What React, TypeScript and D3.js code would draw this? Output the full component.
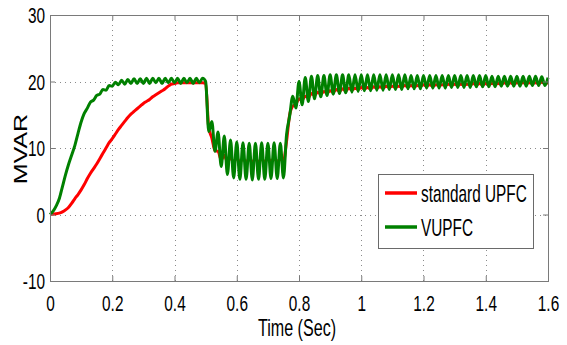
import React, { useEffect, useRef } from 'react'
import * as d3 from 'd3'

// axis ticks
const xTicks = [0, 0.2, 0.4, 0.6, 0.8, 1, 1.2, 1.4, 1.6]
const xTickLabels = ['0', '0.2', '0.4', '0.6', '0.8', '1', '1.2', '1.4', '1.6']
const yTicks = [-10, 0, 10, 20, 30]
const yTickLabels = ['-10', '0', '10', '20', '30']

const sampleStep = 0.01
const standardUpfc = [
  0, 0.05, 0.1, 0.2, 0.4, 0.7, 1.1, 1.7, 2.4, 3.0,
  3.7, 4.5, 5.4, 6.2, 6.9, 7.6, 8.4, 9.2, 10.0, 10.8,
  11.4, 12.1, 12.8, 13.4, 14.0, 14.6, 15.1, 15.5, 15.9, 16.3,
  16.7, 17.0, 17.3, 17.7, 18.0, 18.3, 18.6, 18.9, 19.3, 19.6,
  19.7, 19.8, 19.8, 19.8, 19.8, 19.8, 19.8, 19.8, 19.8, 19.8,
  19.7, 13.0, 11.5, 9.6, 9.5, 8.2, 8.9, 7.9, 8.6, 7.8,
  8.6, 7.8, 8.5, 7.8, 8.5, 7.8, 8.5, 7.8, 8.5, 7.8,
  8.5, 7.9, 8.5, 7.9, 8.4, 8.0, 11.0, 15.0, 16.3, 16.6,
  17.4, 17.2, 17.8, 17.6, 18.2, 17.9, 18.4, 18.1, 18.5, 18.3,
  18.6, 18.4, 18.8, 18.5, 18.9, 18.6, 19.0, 18.7, 19.0, 18.8,
  19.1, 18.9, 19.1, 18.9, 19.2, 19.0, 19.2, 19.0, 19.3, 19.1,
  19.3, 19.1, 19.3, 19.2, 19.4, 19.2, 19.4, 19.2, 19.4, 19.3,
  19.5, 19.3, 19.5, 19.3, 19.5, 19.4, 19.5, 19.4, 19.6, 19.4,
  19.6, 19.4, 19.6, 19.5, 19.6, 19.5, 19.7, 19.5, 19.7, 19.5,
  19.7, 19.6, 19.7, 19.6, 19.7, 19.6, 19.8, 19.6, 19.8, 19.6,
  19.8, 19.7, 19.8, 19.7, 19.8, 19.7, 19.8, 19.7, 19.9, 19.7,
  19.8,
]
const vupfc = [
  0, 0.5, 1.3, 2.4, 4.2, 6.0, 7.6, 9.0, 10.4, 12.2,
  13.9, 15.2, 16.0, 16.9, 17.2, 17.9, 18.1, 18.8, 18.7, 19.4,
  19.3, 19.9, 19.5, 20.2, 19.6, 20.3, 19.7, 20.4, 19.7, 20.4,
  19.7, 20.5, 19.7, 20.5, 19.8, 20.5, 19.7, 20.5, 19.8, 20.5,
  19.8, 20.5, 19.7, 20.5, 19.8, 20.5, 19.7, 20.5, 19.8, 20.5,
  20.0, 12.5, 14.0, 9.5, 12.4, 7.2, 11.8, 6.0, 11.2, 5.5,
  10.9, 5.3, 10.8, 5.3, 10.7, 5.2, 10.7, 5.3, 10.8, 5.3,
  10.7, 5.4, 10.8, 5.4, 10.7, 5.5, 12.0, 14.8, 17.8, 16.0,
  20.0, 16.5, 20.6, 17.0, 20.8, 17.4, 20.9, 17.7, 20.9, 17.9,
  21.0, 18.1, 21.0, 18.2, 21.0, 18.3, 21.0, 18.4, 21.0, 18.5,
  21.0, 18.6, 21.0, 18.6, 21.0, 18.7, 21.0, 18.7, 21.0, 18.8,
  21.0, 18.8, 21.0, 18.8, 21.0, 18.9, 20.9, 18.9, 20.9, 18.9,
  20.9, 19.0, 20.9, 19.0, 20.9, 19.0, 20.9, 19.0, 20.9, 19.1,
  20.9, 19.1, 20.9, 19.1, 20.9, 19.1, 20.9, 19.2, 20.9, 19.2,
  20.9, 19.2, 20.8, 19.2, 20.8, 19.3, 20.8, 19.3, 20.8, 19.3,
  20.8, 19.3, 20.8, 19.3, 20.8, 19.4, 20.8, 19.4, 20.7, 19.4,
  20.6,
]
const legendNames = ['standard UPFC', 'VUPFC']
const lineColors = ['#ff0000', '#008000']

const W = 567
const H = 345
const SX = 0.7 // the original text is squeezed sideways
const FONT = '"Liberation Sans", Arial, sans-serif'

export default function App() {
  const ref = useRef<SVGSVGElement>(null)

  useEffect(() => {
    const svg = d3.select(ref.current)
    svg.selectAll('*').remove()

    const left = 50, right = 548, top = 15, bottom = 281
    const x = d3.scaleLinear().domain([0, 1.6]).range([left, right])
    const y = d3.scaleLinear().domain([-10, 30]).range([bottom, top])

    svg.append('rect').attr('width', W).attr('height', H).attr('fill', '#fff')

    // dotted grid
    const grid = svg.append('g')
      .attr('stroke', '#8a8a8a')
      .attr('stroke-width', 1)
      .attr('stroke-dasharray', '1,4')
    grid.selectAll('line.gx')
      .data(xTicks.slice(1, -1))
      .join('line')
      .attr('class', 'gx')
      .attr('x1', d => Math.round(x(d)) + 0.5)
      .attr('x2', d => Math.round(x(d)) + 0.5)
      .attr('y1', top)
      .attr('y2', bottom)
    grid.selectAll('line.gy')
      .data(yTicks.slice(1, -1))
      .join('line')
      .attr('class', 'gy')
      .attr('x1', left)
      .attr('x2', right)
      .attr('y1', d => Math.round(y(d)) + 0.5)
      .attr('y2', d => Math.round(y(d)) + 0.5)

    // the two curves
    const line = d3.line<number>()
      .x((d, i) => x(i * sampleStep))
      .y(d => y(d))
      .curve(d3.curveMonotoneX)
    ;[standardUpfc, vupfc].forEach((series, k) => {
      svg.append('path')
        .datum(series)
        .attr('fill', 'none')
        .attr('stroke', lineColors[k])
        .attr('stroke-width', 3)
        .attr('stroke-linejoin', 'round')
        .attr('d', line)
    })

    // axes with inward ticks
    const styleAxis = (g: any) => {
      g.select('.domain').remove()
      g.selectAll('line').attr('stroke', '#7a7a7a')
      g.selectAll('text')
        .attr('fill', '#000')
        .attr('font-family', FONT)
        .attr('font-size', 22)
    }

    svg.append('g')
      .attr('transform', `translate(0,${bottom})`)
      .call(d3.axisBottom(x).tickValues(xTicks)
        .tickFormat((d, i) => xTickLabels[i])
        .tickSizeInner(-5).tickSizeOuter(0).tickPadding(14))
      .call(styleAxis)
      .selectAll('text')
      .attr('transform', `scale(${SX},1)`)

    svg.append('g')
      .attr('transform', `translate(0,${top})`)
      .call(d3.axisTop(x).tickValues(xTicks).tickFormat(() => '')
        .tickSizeInner(-5).tickSizeOuter(0))
      .call(styleAxis)

    svg.append('g')
      .attr('transform', `translate(${left},0)`)
      .call(d3.axisLeft(y).tickValues(yTicks)
        .tickFormat((d, i) => yTickLabels[i])
        .tickSizeInner(-5).tickSizeOuter(0))
      .call(styleAxis)
      .selectAll('text')
      .attr('x', -5 / SX)
      .attr('dy', '0.36em')
      .attr('transform', `scale(${SX},1)`)

    svg.append('g')
      .attr('transform', `translate(${right},0)`)
      .call(d3.axisRight(y).tickValues(yTicks).tickFormat(() => '')
        .tickSizeInner(-5).tickSizeOuter(0))
      .call(styleAxis)

    // box
    svg.append('rect')
      .attr('x', left + 0.5)
      .attr('y', top + 0.5)
      .attr('width', right - left)
      .attr('height', bottom - top)
      .attr('fill', 'none')
      .attr('stroke', '#7a7a7a')

    // axis titles
    svg.append('text')
      .attr('transform', `translate(297,336) scale(${SX},1)`)
      .attr('text-anchor', 'middle')
      .attr('font-family', FONT)
      .attr('font-size', 23)
      .text('Time (Sec)')

    svg.append('text')
      .attr('transform', `translate(27,149) scale(${SX},1) rotate(-90)`)
      .attr('text-anchor', 'middle')
      .attr('font-family', FONT)
      .attr('font-size', 25)
      .text('MVAR')

    // legend
    const lg = svg.append('g')
    lg.append('rect')
      .attr('x', 378.5)
      .attr('y', 174.5)
      .attr('width', 155)
      .attr('height', 74)
      .attr('fill', '#fff')
      .attr('stroke', '#6a6a6a')
    legendNames.forEach((name, k) => {
      const ly = 193 + k * 34
      lg.append('line')
        .attr('x1', 385)
        .attr('x2', 417)
        .attr('y1', ly)
        .attr('y2', ly)
        .attr('stroke', lineColors[k])
        .attr('stroke-width', 3.5)
      lg.append('text')
        .attr('transform', `translate(421,${ly + 9}) scale(0.64,1)`)
        .attr('font-family', FONT)
        .attr('font-size', 24)
        .text(name)
    })
  }, [])

  return (
    <svg
      ref={ref}
      width={W}
      height={H}
      style={{ position: 'absolute', left: 0, top: 0 }}
    />
  )
}
